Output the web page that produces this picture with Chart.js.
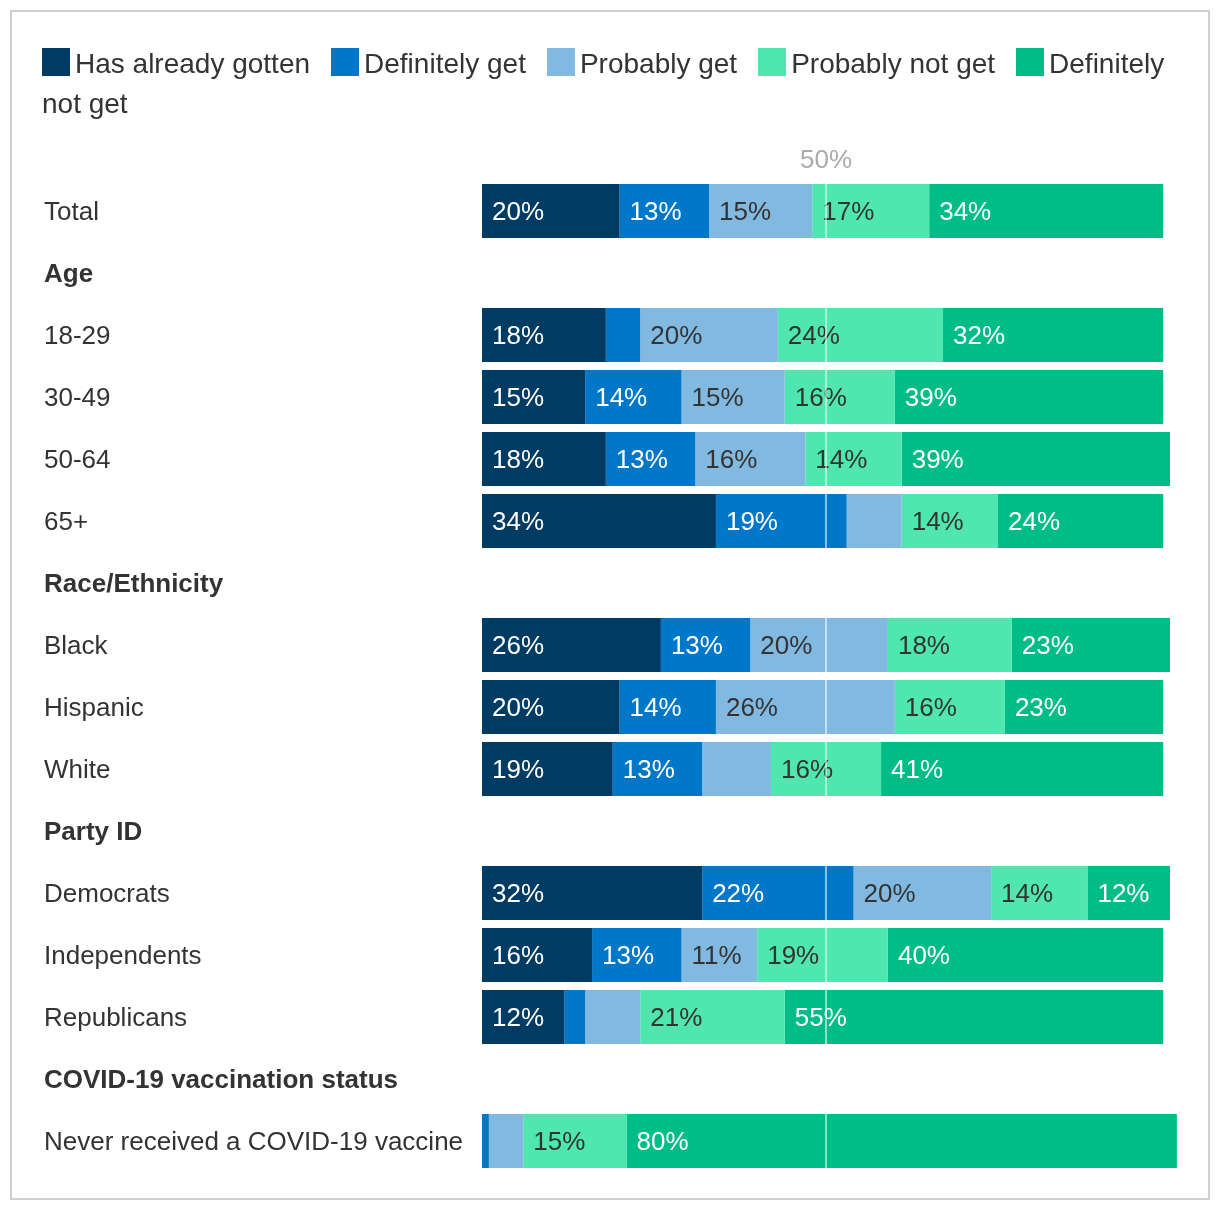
<!DOCTYPE html>
<html>
<head>
<meta charset="utf-8">
<script src="https://cdn.jsdelivr.net/npm/chart.js@4.4.1/dist/chart.umd.min.js"></script>
<style>
  html, body { margin: 0; padding: 0; background: #fff; }
  body { width: 1220px; height: 1212px; position: relative; overflow: hidden;
         font-family: "Liberation Sans", Arial, Helvetica, sans-serif; }
  #frame { position: absolute; left: 10px; top: 10px; width: 1196px; height: 1186px;
           border: 2px solid #d0d0d0; }
  #chart { position: absolute; left: 0; top: 0; }
  #legend { position: absolute; left: 42px; top: 44px; width: 1150px;
            font-size: 28px; line-height: 40px; color: #333; }
  #legend .item { margin-right: 21px; }
  #legend .box { display: inline-block; width: 28px; height: 28px; margin-right: 5px;
                 vertical-align: -3px; }
</style>
</head>
<body>
<div id="frame"></div>
<canvas id="chart" width="1220" height="1212"></canvas>
<div id="legend"></div>
<script>
const categories = ["Total", "Age", "18-29", "30-49", "50-64", "65+", "Race/Ethnicity", "Black", "Hispanic", "White", "Party ID", "Democrats", "Independents", "Republicans", "COVID-19 vaccination status", "Never received a COVID-19 vaccine"];
const headers = ["Age", "Race/Ethnicity", "Party ID", "COVID-19 vaccination status"];
const seriesNames = ["Has already gotten", "Definitely get", "Probably get", "Probably not get", "Definitely not get"];
const alreadyGotten    = [20, null, 18, 15, 18, 34, null, 26, 20, 19, null, 32, 16, 12, null, 0];
const definitelyGet    = [13, null, 5, 14, 13, 19, null, 13, 14, 13, null, 22, 13, 3, null, 1];
const probablyGet      = [15, null, 20, 15, 16, 8, null, 20, 26, 10, null, 20, 11, 8, null, 5];
const probablyNotGet   = [17, null, 24, 16, 14, 14, null, 18, 16, 16, null, 14, 19, 21, null, 15];
const definitelyNotGet = [34, null, 32, 39, 39, 24, null, 23, 23, 41, null, 12, 40, 55, null, 80];
const referenceValue = 50;
const referenceLabel = "50%";

const colors = ["#003b63", "#0077c8", "#82b9e1", "#50e6b0", "#00bd87"];
const labelColors = ["#ffffff", "#ffffff", "#333333", "#333333", "#ffffff"];
const seriesData = [alreadyGotten, definitelyGet, probablyGet, probablyNotGet, definitelyNotGet];
const FONT = '"Liberation Sans", Arial, Helvetica, sans-serif';

// HTML legend
const legendEl = document.getElementById('legend');
seriesNames.forEach((n, i) => {
  const item = document.createElement('span');
  item.className = 'item';
  const box = document.createElement('span');
  box.className = 'box';
  box.style.background = colors[i];
  item.appendChild(box);
  item.appendChild(document.createTextNode(n));
  legendEl.appendChild(item);
});

const segmentLabels = {
  id: 'segmentLabels',
  afterDatasetsDraw(chart) {
    const ctx = chart.ctx;
    ctx.save();
    ctx.font = '26px ' + FONT;
    ctx.textBaseline = 'middle';
    ctx.textAlign = 'left';
    chart.data.datasets.forEach((ds, di) => {
      const meta = chart.getDatasetMeta(di);
      meta.data.forEach((el, i) => {
        const v = ds.data[i];
        if (v == null || v < 11) return;
        const p = el.getProps(['x', 'y', 'base'], true);
        ctx.fillStyle = labelColors[di];
        ctx.fillText(v + '%', Math.min(p.base, p.x) + 10, p.y + 2);
      });
    });
    // reference line
    const xs = chart.scales.x;
    const x = Math.round(xs.getPixelForValue(referenceValue));
    ctx.strokeStyle = 'rgba(255,255,255,0.55)';
    ctx.lineWidth = 2;
    ctx.beginPath();
    ctx.moveTo(x, chart.chartArea.top);
    ctx.lineTo(x, chart.chartArea.bottom);
    ctx.stroke();
    ctx.fillStyle = '#aaaaaa';
    ctx.textAlign = 'center';
    ctx.font = '26px ' + FONT;
    ctx.fillText(referenceLabel, x, 161);
    ctx.restore();
  }
};

new Chart(document.getElementById('chart'), {
  type: 'bar',
  data: {
    labels: categories,
    datasets: seriesNames.map((n, i) => ({
      label: n,
      data: seriesData[i],
      backgroundColor: colors[i],
      borderWidth: 0,
      barPercentage: 54 / 62,
      categoryPercentage: 1,
      clip: false
    }))
  },
  options: {
    indexAxis: 'y',
    responsive: false,
    animation: false,
    layout: { padding: { left: 44, top: 180, bottom: 40, right: 50 } },
    plugins: { legend: { display: false }, tooltip: { enabled: false } },
    scales: {
      x: { stacked: true, min: 0, max: 100, display: false },
      y: {
        stacked: true,
        grid: { display: false, drawTicks: false },
        border: { display: false },
        afterFit(axis) { axis.width = 438; },
        ticks: {
          autoSkip: false,
          crossAlign: 'far',
          color: '#333333',
          padding: 0,
          labelOffset: 2,
          font: (c) => ({
            family: FONT,
            size: 26,
            weight: headers.includes(categories[c.index]) ? 'bold' : 'normal'
          })
        }
      }
    }
  },
  plugins: [segmentLabels]
});
</script>
</body>
</html>
